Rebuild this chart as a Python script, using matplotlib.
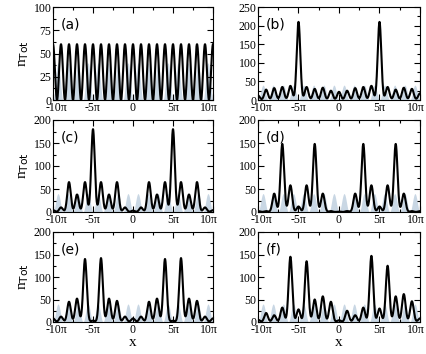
import numpy as np
import matplotlib
matplotlib.use('Agg')
import matplotlib.pyplot as plt
import matplotlib.transforms as mtrans
from matplotlib.ticker import MultipleLocator

# Lattice sites, in units of pi
sites = np.arange(-10, 11)

# Peak height of n_Tot on each site, sites -10..10
peaks_a = [60] * 21
peaks_b = [12, 28, 32, 35, 38, 210, 35, 30, 33, 25, 22, 25, 32, 35, 38, 210, 35, 28, 33, 30, 18]
peaks_c = [4, 10, 65, 38, 65, 180, 65, 38, 65, 10, 3, 10, 65, 38, 65, 180, 65, 38, 65, 10, 4]
peaks_d = [2, 2, 40, 148, 58, 12, 58, 148, 40, 2, 1, 2, 40, 148, 58, 12, 58, 148, 40, 2, 2]
peaks_e = [8, 12, 45, 52, 140, 3, 142, 52, 47, 12, 8, 12, 45, 52, 140, 3, 142, 52, 47, 12, 8]
peaks_f = [5, 20, 15, 32, 145, 28, 135, 50, 57, 45, 4, 25, 15, 32, 147, 30, 125, 57, 62, 46, 8]

# Initial profile (light blue): 16 humps across the box, in units of pi
bg_sites = [-9.375, -8.125, -6.875, -5.625, -4.375, -3.125, -1.875, -0.625,
            0.625, 1.875, 3.125, 4.375, 5.625, 6.875, 8.125, 9.375]
bg_height = 40

panel_labels = ['(a)', '(b)', '(c)', '(d)', '(e)', '(f)']
panel_peaks = [peaks_a, peaks_b, peaks_c, peaks_d, peaks_e, peaks_f]
ymax = [100, 250, 200, 200, 200, 200]
ystep = [25, 50, 50, 50, 50, 50]

x = np.linspace(-10 * np.pi, 10 * np.pi, 4000)


def cos2_lobes(x, centres, heights, half):
    n = np.zeros_like(x)
    for c, h in zip(centres, heights):
        d = x - c * np.pi
        n += np.where(np.abs(d) <= half, h * np.cos(0.5 * np.pi * d / half) ** 2, 0.0)
    return n


def gauss_lobes(x, centres, heights, width=0.22 * np.pi):
    n = np.zeros_like(x)
    for c, h in zip(centres, heights):
        n += h * np.exp(-0.5 * ((x - c * np.pi) / width) ** 2)
    return n


plt.rcParams['font.family'] = 'Liberation Serif'
fig = plt.figure(figsize=(4.27, 3.54), dpi=100)

W, H = 427.0, 354.0
cols = [(53, 213), (258, 420)]
rows = [(7, 100), (120, 212), (232, 322)]

bg = cos2_lobes(x, bg_sites, [bg_height] * len(bg_sites), 0.625 * np.pi)

for i in range(6):
    r, c = divmod(i, 2)
    (x0, x1), (y0, y1) = cols[c], rows[r]
    ax = fig.add_axes([x0 / W, 1 - y1 / H, (x1 - x0) / W, (y1 - y0) / H])

    if i == 0:
        n = cos2_lobes(x, sites, panel_peaks[i], 0.5 * np.pi)
    else:
        n = gauss_lobes(x, sites, panel_peaks[i])

    ax.fill_between(x, 0, bg, color='#c9d7e4', lw=0)
    ax.plot(x, n, color='black', lw=1.5)

    ax.set_xlim(-10 * np.pi, 10 * np.pi)
    ax.set_ylim(0, ymax[i])
    ax.set_xticks(np.array([-10, -5, 0, 5, 10]) * np.pi)
    ax.set_xticklabels(['-10π', '-5π', '0', '5π', '10π'])
    ax.xaxis.set_minor_locator(MultipleLocator(2.5 * np.pi))
    ax.yaxis.set_major_locator(MultipleLocator(ystep[i]))
    ax.yaxis.set_minor_locator(MultipleLocator(ystep[i] / 2))
    ax.tick_params(which='both', direction='in', top=True, right=True,
                   labelsize=8.5, width=0.8, pad=1.5)
    ax.tick_params(axis='y', pad=1)
    ax.tick_params(which='major', length=4)
    ax.tick_params(which='minor', length=2)
    for s in ax.spines.values():
        s.set_linewidth(0.8)

    # nudge the end labels inwards so they stay inside the figure
    xt = ax.get_xticklabels()
    xt[0].set_transform(xt[0].get_transform() + mtrans.ScaledTranslation(3 / 100, 0, fig.dpi_scale_trans))
    xt[-1].set_transform(xt[-1].get_transform() + mtrans.ScaledTranslation(-4 / 100, 0, fig.dpi_scale_trans))

    ax.text(0.05, 0.81, panel_labels[i], transform=ax.transAxes,
            fontsize=10, family='DejaVu Sans', va='center', ha='left')

    if c == 0:
        ax.set_ylabel(r'n$_{\mathrm{Tot}}$', fontsize=11, labelpad=2)
    if r == 2:
        ax.set_xlabel('x', fontsize=11, labelpad=0)

fig.savefig('out.png', dpi=100)
